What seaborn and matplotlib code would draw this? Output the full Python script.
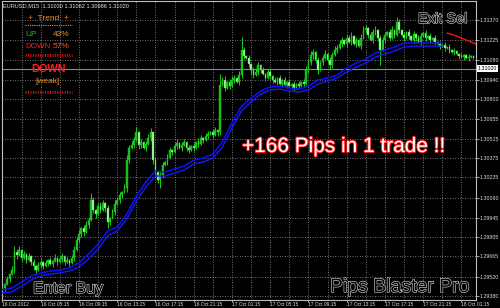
import numpy as np
import pandas as pd
import matplotlib
matplotlib.use("Agg")
import matplotlib.pyplot as plt
import matplotlib.patheffects as pe
from matplotlib import font_manager
from matplotlib.lines import Line2D
import seaborn as sns

# ---------------- data ----------------
title = "EURUSD,M15  1.31030 1.31062 1.30986 1.31020"
open_first = 1.29430
closes = [
    1.29438, 1.29466, 1.29502, 1.29538, 1.29567, 1.29697, 1.29675, 1.29712, 1.29654, 1.29683,
    1.29639, 1.29668, 1.29625, 1.29596, 1.29567, 1.29603, 1.29625, 1.29596, 1.29618, 1.29639,
    1.29611, 1.29632, 1.29654, 1.29625, 1.29647, 1.29668, 1.29625, 1.29639, 1.29618, 1.29654,
    1.29712, 1.29784, 1.29827, 1.29870, 1.29841, 1.29892, 1.29928, 1.30072, 1.30000, 1.29971,
    1.30029, 1.30000, 1.30050, 1.30014, 1.29913, 1.29942, 1.29985, 1.30043, 1.30072, 1.30108,
    1.30130, 1.30159, 1.30360, 1.30447, 1.30469, 1.30505, 1.30562, 1.30469, 1.30490, 1.30447,
    1.30476, 1.30519, 1.30562, 1.30360, 1.30274, 1.30216, 1.30252, 1.30324, 1.30346, 1.30375,
    1.30433, 1.30418, 1.30461, 1.30483, 1.30447, 1.30469, 1.30490, 1.30447, 1.30433, 1.30461,
    1.30447, 1.30490, 1.30476, 1.30519, 1.30505, 1.30533, 1.30548, 1.30562, 1.30541, 1.30577,
    1.30562, 1.30901, 1.30937, 1.30880, 1.30923, 1.30894, 1.30937, 1.30952, 1.30923, 1.30973,
    1.31154, 1.31110, 1.31096, 1.31053, 1.31009, 1.30973, 1.30995, 1.31045, 1.31009, 1.30980,
    1.30952, 1.30995, 1.30966, 1.30937, 1.30923, 1.30952, 1.30908, 1.30937, 1.30901, 1.30923,
    1.30894, 1.30908, 1.30880, 1.30908, 1.30894, 1.30923, 1.30908, 1.31009, 1.31067, 1.31117,
    1.31139, 1.31081, 1.31009, 1.31067, 1.31096, 1.31125, 1.31081, 1.31045, 1.31117, 1.31154,
    1.31168, 1.31197, 1.31226, 1.31197, 1.31240, 1.31211, 1.31254, 1.31197, 1.31226, 1.31182,
    1.31240, 1.31298, 1.31312, 1.31262, 1.31226, 1.31283, 1.31298, 1.31240, 1.31154, 1.31226,
    1.31262, 1.31283, 1.31240, 1.31298, 1.31262, 1.31355, 1.31298, 1.31262, 1.31240, 1.31283,
    1.31254, 1.31226, 1.31269, 1.31240, 1.31211, 1.31254, 1.31276, 1.31240, 1.31254, 1.31226,
    1.31240, 1.31211, 1.31197, 1.31182, 1.31190, 1.31168, 1.31175, 1.31154, 1.31139, 1.31146,
    1.31125, 1.31110, 1.31103, 1.31117, 1.31096, 1.31103, 1.31110, 1.31096,
]
# upper / lower shadow lengths in pips
wick_up = [
    2, 1, 2, 1, 3, 4, 2, 3, 1, 2, 1, 2, 1, 2, 1, 2, 3, 1, 2, 1,
    2, 1, 3, 1, 2, 2, 1, 2, 1, 2, 3, 2, 3, 1, 2, 3, 2, 5, 2, 1,
    2, 3, 2, 1, 2, 1, 2, 3, 2, 2, 1, 3, 4, 2, 3, 2, 4, 1, 2, 1,
    2, 3, 3, 1, 2, 1, 2, 2, 1, 3, 2, 1, 2, 3, 1, 2, 2, 1, 2, 1,
    2, 1, 3, 2, 1, 2, 2, 1, 2, 2, 1, 8, 2, 3, 1, 2, 3, 2, 1, 3,
    9, 2, 1, 2, 1, 2, 3, 2, 1, 2, 1, 2, 2, 1, 2, 1, 2, 1, 2, 1,
    2, 1, 2, 1, 2, 1, 2, 3, 2, 3, 2, 1, 2, 1, 2, 3, 1, 2, 2, 3,
    2, 3, 2, 1, 3, 2, 3, 1, 2, 1, 3, 3, 2, 1, 2, 2, 3, 1, 2, 2,
    2, 1, 2, 3, 1, 4, 2, 1, 2, 1, 2, 1, 2, 1, 2, 2, 1, 2, 1, 2,
    1, 2, 1, 2, 1, 2, 1, 2, 1, 2, 1, 1, 2, 1, 1, 2, 1, 1,
]
wick_dn = [
    2, 2, 1, 2, 1, 2, 3, 1, 2, 1, 2, 1, 2, 3, 2, 1, 2, 2, 1, 2,
    1, 2, 1, 2, 1, 2, 2, 1, 2, 1, 2, 1, 2, 2, 3, 1, 2, 1, 2, 3,
    1, 2, 1, 3, 4, 2, 1, 2, 1, 2, 2, 1, 3, 2, 1, 2, 1, 3, 2, 1,
    2, 1, 2, 3, 2, 2, 6, 2, 1, 2, 1, 2, 1, 2, 1, 2, 1, 2, 2, 1,
    2, 1, 2, 1, 2, 1, 2, 1, 2, 1, 3, 2, 1, 2, 1, 2, 1, 2, 1, 2,
    2, 2, 1, 2, 3, 2, 1, 2, 2, 1, 2, 1, 2, 2, 1, 2, 1, 2, 1, 2,
    1, 2, 2, 1, 2, 1, 2, 1, 2, 2, 3, 2, 3, 1, 2, 1, 2, 3, 2, 1,
    2, 1, 2, 1, 2, 1, 2, 1, 2, 1, 2, 1, 2, 2, 1, 2, 2, 2, 11, 1,
    2, 1, 2, 1, 2, 1, 2, 1, 2, 1, 2, 1, 2, 2, 1, 2, 1, 2, 1, 2,
    1, 2, 1, 2, 1, 2, 1, 2, 1, 2, 1, 2, 1, 2, 1, 2, 1, 1,
]
blue_idx = list(range(0, 185, 4))
blue_fast = [
    1.29423, 1.29438, 1.29481, 1.29525, 1.29546, 1.29560, 1.29567, 1.29582, 1.29618, 1.29683,
    1.29755, 1.29849, 1.29877, 1.29971, 1.30101, 1.30202, 1.30281, 1.30274, 1.30296, 1.30317,
    1.30360, 1.30375, 1.30404, 1.30490, 1.30627, 1.30750, 1.30807, 1.30858, 1.30887, 1.30894,
    1.30880, 1.30872, 1.30894, 1.30937, 1.30952, 1.30973, 1.31024, 1.31060, 1.31089, 1.31132,
    1.31154, 1.31175, 1.31204, 1.31204, 1.31204, 1.31204, 1.31204,
]
blue_slow = [
    1.29401, 1.29409, 1.29452, 1.29496, 1.29525, 1.29538, 1.29546, 1.29560, 1.29589, 1.29647,
    1.29719, 1.29812, 1.29849, 1.29935, 1.30065, 1.30166, 1.30245, 1.30245, 1.30267, 1.30288,
    1.30332, 1.30346, 1.30375, 1.30454, 1.30591, 1.30714, 1.30779, 1.30836, 1.30865, 1.30872,
    1.30858, 1.30851, 1.30865, 1.30908, 1.30930, 1.30952, 1.30995, 1.31031, 1.31060, 1.31103,
    1.31125, 1.31146, 1.31175, 1.31182, 1.31182, 1.31182, 1.31182,
]
red_idx = [186, 190, 194, 198]
red_vals = [1.31276, 1.31254, 1.31226, 1.31197]
bid = 1.31020
ytick_vals = [1.31370, 1.31225, 1.31080, 1.30940, 1.30800, 1.30655, 1.30515, 1.30375,
              1.30235, 1.30090, 1.29945, 1.29805, 1.29665, 1.29520, 1.29380]
xtick_labels = ["16 Oct 2012", "16 Oct 05:15", "16 Oct 09:15", "16 Oct 13:15", "16 Oct 17:15",
                "16 Oct 21:15", "17 Oct 01:15", "17 Oct 05:15", "17 Oct 09:15", "17 Oct 13:15",
                "17 Oct 17:15", "17 Oct 21:15", "18 Oct 01:15"]
PIP = 0.0001

assert len(closes) == len(wick_up) == len(wick_dn)

# ---------------- style ----------------
sns.set_theme(style="dark", rc={
    "axes.facecolor": "black", "figure.facecolor": "black", "savefig.facecolor": "black",
    "axes.edgecolor": "#bdbdbd", "grid.color": "#8a8a8a",
})
names = {f.name for f in font_manager.fontManager.ttflist}
NARROW = "Liberation Sans Narrow" in names
SANS = "Liberation Sans" if "Liberation Sans" in names else "DejaVu Sans"
SMALL = "Liberation Sans Narrow" if NARROW else SANS
plt.rcParams["font.family"] = [SANS, "DejaVu Sans"]

W, H = 500, 308
fig = plt.figure(figsize=(W / 100, H / 100), dpi=100)
ax = fig.add_axes([2 / W, 8 / H, 474 / W, 299 / H])
ax.set_facecolor("black")
ax.set_axisbelow(True)

n = len(closes)
idx = np.arange(n)
c = np.array(closes)
o = np.r_[open_first, c[:-1]]
hi = np.maximum(o, c) + np.array(wick_up) * PIP
lo = np.minimum(o, c) - np.array(wick_dn) * PIP
up = c >= o

wick_col = "#17d217"
ax.vlines(idx, lo, hi, color=wick_col, linewidth=0.7, zorder=2)
body_h = np.maximum(np.abs(c - o), 0.00002)
ax.bar(idx, body_h, bottom=np.minimum(o, c), width=0.72,
       color=np.where(up, "#1fb81f", "#bdf3bd"), edgecolor=wick_col, linewidth=0.3, zorder=3)

# indicator lines
sns.lineplot(x=blue_idx, y=blue_slow, ax=ax, color="#1818ff", linewidth=1.0, zorder=4)
sns.lineplot(x=blue_idx, y=blue_fast, ax=ax, color="#1010ff", linewidth=1.1, zorder=4)
sns.lineplot(x=red_idx, y=red_vals, ax=ax, color="#ff1010", linewidth=1.0, zorder=4)

ax.axhline(bid, color="#8c8c8c", linewidth=0.8, zorder=1.5)

# axes
ax.set_xlim(-0.2, 198.1)
ax.set_ylim(1.29351, 1.31507)
ax.set_yticks(ytick_vals)
ax.set_yticklabels([f"{v:.5f}" for v in ytick_vals])
ax.set_xticks(range(0, 16 * len(xtick_labels), 16))
ax.set_xticklabels(xtick_labels, ha="left")
ax.set_xticks(range(0, 198, 8), minor=True)
ax.grid(True, which="both", axis="x", color="#9a9a9a", linestyle=(0, (1, 2)), linewidth=0.6)
ax.grid(True, which="major", axis="y", color="#9a9a9a", linestyle=(0, (1, 2)), linewidth=0.6)

ysize = 4.5 if NARROW else 3.8
xsize = 4.2 if NARROW else 3.5
ax.tick_params(axis="y", which="major", right=True, left=False, labelright=True, labelleft=False,
               direction="out", length=2.0, width=0.6, color="#bdbdbd", labelcolor="#dcdcdc",
               labelsize=ysize, pad=0.8)
ax.tick_params(axis="x", which="major", bottom=True, direction="out", length=1.6, width=0.6,
               color="#bdbdbd", labelcolor="#dcdcdc", labelsize=xsize, pad=0.0)
ax.tick_params(axis="x", which="minor", length=0)
for lab in ax.get_xticklabels() + ax.get_yticklabels():
    lab.set_fontfamily(SMALL)
for s in ax.spines.values():
    s.set_visible(True)
    s.set_color("#bdbdbd")
    s.set_linewidth(0.8)

ax.text(1.004, bid, f"{bid:.5f}", transform=ax.get_yaxis_transform(), ha="left", va="center",
        fontsize=ysize, family=SMALL, color="black", clip_on=False,
        bbox=dict(boxstyle="square,pad=0.12", fc="white", ec="none"))


# ---------------- annotations (figure pixel positions) ----------------
def ftxt(x, y, s, **kw):
    return fig.text(x / W, 1 - y / H, s, **kw)


def fline(x0, x1, y, **kw):
    fig.add_artist(Line2D([x0 / W, x1 / W], [1 - y / H, 1 - y / H], transform=fig.transFigure, **kw))


ftxt(3, 6, title, fontsize=5.0 if NARROW else 4.1, family=SMALL, color="#e8e8e8", va="center")

orange = "#f0921e"
ftxt(48, 19, "+  Trend  +", fontsize=6.0, color=orange, ha="center", va="center")
fline(25, 72, 25, color=orange, linewidth=0.8, linestyle=(0, (1, 1)))
ftxt(25, 34, "UP", fontsize=6.0, color="#12d012", va="center")
ftxt(53, 34, "43%", fontsize=6.0, color=orange, va="center")
ftxt(25, 46, "DOWN", fontsize=5.8, color="#ff1a1a", va="center")
ftxt(53, 46, "57%", fontsize=6.0, color="#ff5a14", va="center")
fline(25, 72, 55, color="#d01414", linewidth=2.2, linestyle=(0, (0.35, 0.45)))
ftxt(48, 69, "DOWN", fontsize=10.5 if NARROW else 7.8, family=[SMALL, "DejaVu Sans"],
     fontweight="bold", color="#ff1e1e", ha="center", va="center")
ftxt(48, 82, "[weak]", fontsize=6.0, color=orange, ha="center", va="center")
fline(25, 72, 92, color="#d01414", linewidth=2.2, linestyle=(0, (0.35, 0.45)))

hollow = [pe.Stroke(linewidth=0.9, foreground="#cfcfcf"), pe.Normal()]
ftxt(418, 23, "Exit Sel", fontsize=10.5, color="black", va="baseline", path_effects=hollow)
ftxt(33, 293, "Enter Buy", fontsize=11.5, color="black", va="baseline", path_effects=hollow)
ftxt(330, 292, "Pips Blaster Pro", fontsize=14, color="black", va="baseline", path_effects=hollow)

ftxt(242, 152, "+166 Pips in 1 trade !!", fontsize=18.4 if NARROW else 15,
     family=[SMALL if NARROW else SANS, "DejaVu Sans"], color="white", va="baseline",
     path_effects=[pe.Stroke(linewidth=1.4, foreground="#ff1a1a"), pe.Normal()])

fig.savefig("out.png", dpi=100, facecolor="black")
